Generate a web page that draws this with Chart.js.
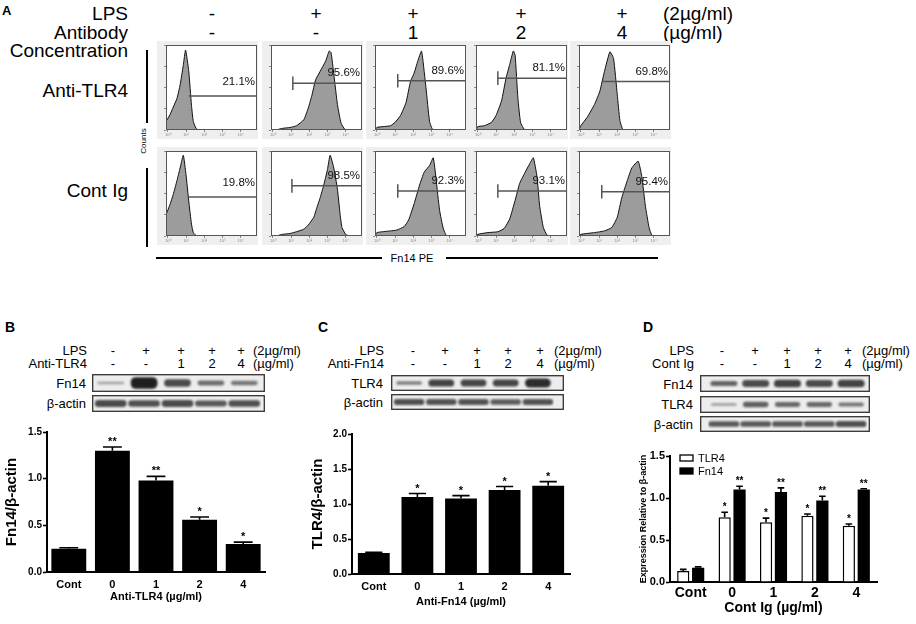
<!DOCTYPE html>
<html lang="en">
<head>
<meta charset="UTF-8" />
<title>Fn14 / TLR4 expression figure</title>
<script src="https://cdn.jsdelivr.net/npm/chart.js"></script>
<style>
  body { margin: 0; background: #fff; }
  #fig {
    position: relative; width: 916px; height: 624px; overflow: hidden;
    font-family: "Liberation Sans", Arial, Helvetica, sans-serif; color: #000;
  }
  #fig canvas { position: absolute; }
  .t { position: absolute; white-space: nowrap; line-height: 1; }
  .rule { position: absolute; background: #000; }
</style>
</head>
<body>
<div id="fig"></div>
<script>
// ---------- Panel A: flow histograms (x = fraction of log axis, y = fraction of max count)
const DECADE_POS = [0.02, 0.22, 0.42, 0.62, 0.82];
const DECADE_LABELS = ['10⁰', '10¹', '10²', '10³', '10⁴'];
const A_LPS = ['-', '+', '+', '+', '+'];
const A_DOSE = ['-', '-', '1', '2', '4'];

const a_tlr4_neg = [[0,0.10],[0.044,0.18],[0.08,0.27],[0.12,0.37],[0.155,0.53],[0.19,0.76],[0.215,0.94],[0.25,0.69],[0.28,0.29],[0.30,0.10],[0.33,0.02],[0.36,0],[1,0]];
const a_tlr4_lps = [[0,0],[0.05,0],[0.13,0.02],[0.21,0.03],[0.28,0.05],[0.36,0.12],[0.41,0.26],[0.45,0.41],[0.49,0.59],[0.54,0.69],[0.60,0.81],[0.64,0.93],[0.66,0.91],[0.69,0.66],[0.73,0.30],[0.77,0.08],[0.81,0.01],[0.86,0],[1,0]];
const a_tlr4_1 = [[0,0],[0.02,0.03],[0.09,0.04],[0.17,0.05],[0.22,0.09],[0.28,0.17],[0.34,0.32],[0.39,0.57],[0.43,0.67],[0.47,0.81],[0.51,0.93],[0.52,0.88],[0.56,0.50],[0.60,0.10],[0.64,0],[1,0]];
const a_tlr4_2 = [[0,0],[0.02,0.04],[0.09,0.05],[0.17,0.09],[0.22,0.17],[0.28,0.34],[0.33,0.61],[0.37,0.77],[0.41,0.93],[0.43,0.88],[0.46,0.38],[0.49,0.09],[0.54,0],[1,0]];
const a_tlr4_4 = [[0,0],[0.02,0.05],[0.09,0.15],[0.17,0.30],[0.23,0.46],[0.28,0.69],[0.34,0.92],[0.38,0.84],[0.42,0.42],[0.45,0.11],[0.49,0],[1,0]];

const a_cig_neg = [[0,0.25],[0.044,0.37],[0.08,0.49],[0.12,0.65],[0.155,0.80],[0.19,0.95],[0.22,0.72],[0.25,0.41],[0.28,0.14],[0.30,0.04],[0.34,0],[1,0]];
const a_cig_lps = [[0,0],[0.05,0],[0.13,0.02],[0.21,0.03],[0.28,0.05],[0.36,0.08],[0.41,0.13],[0.47,0.22],[0.50,0.32],[0.54,0.45],[0.58,0.60],[0.62,0.78],[0.65,0.95],[0.69,0.80],[0.73,0.55],[0.76,0.25],[0.78,0.10],[0.82,0.02],[0.86,0],[1,0]];
const a_cig_1 = [[0,0],[0.02,0.04],[0.17,0.06],[0.24,0.07],[0.32,0.11],[0.37,0.19],[0.43,0.38],[0.49,0.60],[0.54,0.75],[0.60,0.83],[0.64,0.92],[0.67,0.68],[0.71,0.30],[0.75,0.09],[0.79,0],[1,0]];
const a_cig_2 = [[0,0],[0.02,0.02],[0.13,0.04],[0.24,0.05],[0.31,0.09],[0.37,0.20],[0.43,0.42],[0.48,0.62],[0.54,0.75],[0.59,0.85],[0.63,0.92],[0.67,0.70],[0.70,0.35],[0.74,0.10],[0.78,0.01],[0.82,0],[1,0]];
const a_cig_4 = [[0,0],[0.02,0.02],[0.17,0.04],[0.28,0.06],[0.36,0.10],[0.42,0.22],[0.47,0.45],[0.53,0.65],[0.58,0.80],[0.65,0.88],[0.69,0.70],[0.73,0.35],[0.77,0.10],[0.80,0.01],[0.84,0],[1,0]];

const A_GATE_FROM_TLR4 = [0.25, 0.24, 0.25, 0.24, 0.25];
const A_GATE_AT_TLR4 = [0.40, 0.55, 0.58, 0.61, 0.57];
const A_GATE_BAR_TLR4 = [false, true, true, true, false];
const A_PCT_TLR4 = ['21.1%', '95.6%', '89.6%', '81.1%', '69.8%'];
const A_GATE_FROM_CIG = [0.24, 0.23, 0.25, 0.24, 0.25];
const A_GATE_AT_CIG = [0.46, 0.59, 0.53, 0.53, 0.52];
const A_GATE_BAR_CIG = [false, true, true, true, true];
const A_PCT_CIG = ['19.8%', '98.5%', '92.3%', '93.1%', '95.4%'];

// ---------- Panels B-D: western blots (band density per lane) and quantification
const LANES = ['Cont', '0', '1', '2', '4'];
const GEL_LPS = ['-', '+', '+', '+', '+'];
const GEL_DOSE = ['-', '-', '1', '2', '4'];

const B_BAND_FN14 = [0.25, 1.0, 0.75, 0.55, 0.5];
const B_BAND_ACTIN = [0.75, 0.72, 0.75, 0.68, 0.72];
const B_FN14 = [0.25, 1.30, 0.98, 0.56, 0.30];
const B_FN14_ERR = [0.01, 0.04, 0.045, 0.03, 0.02];
const B_STARS = ['', '**', '**', '*', '*'];

const C_BAND_TLR4 = [0.45, 0.8, 0.78, 0.78, 0.92];
const C_BAND_ACTIN = [0.72, 0.7, 0.7, 0.65, 0.7];
const C_TLR4 = [0.30, 1.10, 1.08, 1.20, 1.26];
const C_TLR4_ERR = [0.01, 0.05, 0.04, 0.05, 0.06];
const C_STARS = ['', '*', '*', '*', '*'];

const D_BAND_FN14 = [0.6, 0.75, 0.8, 0.75, 0.8];
const D_BAND_TLR4 = [0.3, 0.62, 0.58, 0.58, 0.5];
const D_BAND_ACTIN = [0.68, 0.68, 0.68, 0.68, 0.72];
const D_TLR4 = [0.13, 0.77, 0.71, 0.79, 0.67];
const D_TLR4_ERR = [0.02, 0.06, 0.05, 0.02, 0.02];
const D_FN14 = [0.17, 1.10, 1.07, 0.97, 1.10];
const D_FN14_ERR = [0.01, 0.04, 0.05, 0.05, 0.01];
const D_STARS_TLR4 = ['', '*', '*', '*', '*'];
const D_STARS_FN14 = ['', '**', '**', '**', '**'];

const FONT = '"Liberation Sans", Arial, Helvetica, sans-serif';
Chart.defaults.font.family = FONT;
Chart.defaults.color = '#000';

const fig = document.getElementById('fig');

function txt(s, x, y, size, o = {}) {
  const el = document.createElement('div');
  el.className = 't';
  el.textContent = s;
  el.style.left = x + 'px';
  el.style.top = y + 'px';
  el.style.fontSize = size + 'px';
  if (o.bold) el.style.fontWeight = 'bold';
  const ax = o.align === 'right' ? '-100%' : o.align === 'left' ? '0' : '-50%';
  el.style.transform = `translate(${ax}, -50%)` + (o.rotate ? ' rotate(-90deg)' : '');
  fig.appendChild(el);
}

function rule(x, y, w, h) {
  const el = document.createElement('div');
  el.className = 'rule';
  Object.assign(el.style, { left: x + 'px', top: y + 'px', width: w + 'px', height: h + 'px' });
  fig.appendChild(el);
}

function mkCanvas(x, y, w, h) {
  const c = document.createElement('canvas');
  c.width = w;
  c.height = h;
  c.style.left = x + 'px';
  c.style.top = y + 'px';
  fig.appendChild(c);
  return c;
}

// grey outer box, white plot area, frame and percentage label
const histFrame = {
  id: 'histFrame',
  beforeDraw(chart) {
    const { ctx, chartArea: a } = chart;
    ctx.save();
    ctx.fillStyle = '#efefef';
    ctx.fillRect(0, 0, chart.width, chart.height);
    ctx.fillStyle = '#fff';
    ctx.fillRect(a.left, a.top, a.right - a.left, a.bottom - a.top);
    ctx.restore();
  },
  afterDatasetsDraw(chart, args, opts) {
    const { ctx, chartArea: a } = chart;
    const y = chart.scales.y;
    ctx.save();
    ctx.strokeStyle = '#555';
    ctx.lineWidth = 1;
    ctx.strokeRect(a.left + 0.5, a.top + 0.5, a.right - a.left - 1, a.bottom - a.top - 1);
    ctx.fillStyle = '#111';
    ctx.font = '11.5px ' + FONT;
    ctx.textAlign = 'right';
    ctx.textBaseline = 'middle';
    ctx.fillText(opts.pct, a.right - 2, y.getPixelForValue(opts.level) - opts.lift);
    ctx.restore();
  }
};

function histogram(left, top, pairs, from, level, bar, pct, first) {
  const c = mkCanvas(left, top, 101, 98);
  const datasets = [
    { data: [{ x: from, y: level }, { x: 1, y: level }], borderColor: '#555', borderWidth: 1.5,
      pointRadius: 0, fill: false, order: 1 },
    { data: pairs.map(p => ({ x: p[0], y: p[1] })), fill: 'origin', backgroundColor: '#9c9c9c',
      borderColor: '#111', borderWidth: 1, pointRadius: 0, tension: 0.15, order: 3 }
  ];
  if (bar) {
    datasets.push({ data: [{ x: from, y: level - 0.08 }, { x: from, y: level + 0.08 }],
      borderColor: '#555', borderWidth: 1.5, pointRadius: 0, fill: false, order: 1 });
  }
  new Chart(c, {
    type: 'line',
    data: { datasets },
    options: {
      responsive: false, animation: false, events: [],
      layout: { padding: { top: 4, right: 1 } },
      plugins: {
        legend: { display: false }, tooltip: { enabled: false },
        histFrame: { pct, level, lift: first ? 14 : 10 }
      },
      scales: {
        x: {
          type: 'linear', min: 0, max: 1,
          afterBuildTicks: s => { s.ticks = DECADE_POS.map(v => ({ value: v })); },
          afterFit: s => { s.height = 9; },
          ticks: { font: { size: 4 }, color: '#888', padding: 0, maxRotation: 0,
                   callback: (v, i) => DECADE_LABELS[i] },
          grid: { drawOnChartArea: false, tickLength: 2, color: '#888' },
          border: { display: false }
        },
        y: {
          min: 0, max: 1,
          afterFit: s => { s.width = 9; },
          ticks: { display: false, stepSize: 0.25 },
          grid: { drawOnChartArea: false, tickLength: 2, color: '#888' },
          border: { display: false }
        }
      }
    },
    plugins: [histFrame]
  });
}

// blurred bands on a light strip
const blotStrip = {
  id: 'blotStrip',
  beforeDraw(chart) {
    const ctx = chart.ctx;
    ctx.save();
    ctx.fillStyle = '#ededed';
    ctx.fillRect(0, 0, chart.width, chart.height);
    ctx.restore();
  },
  beforeDatasetsDraw(chart) {
    chart.ctx.save();
    chart.ctx.filter = 'blur(1.1px)';
  },
  afterDatasetsDraw(chart) {
    chart.ctx.restore();
  },
  afterDraw(chart) {
    const ctx = chart.ctx;
    ctx.save();
    ctx.strokeStyle = '#333';
    ctx.lineWidth = 1.3;
    ctx.strokeRect(0.7, 0.7, chart.width - 1.4, chart.height - 1.4);
    ctx.restore();
  }
};

function blot(left, top, w, h, dens, padL, padR, widthPct) {
  const c = mkCanvas(left, top, w, h);
  new Chart(c, {
    type: 'bar',
    data: {
      labels: LANES,
      datasets: [{
        data: dens.map(v => [-(0.1 + 0.55 * v * v), 0.1 + 0.55 * v * v]),
        backgroundColor: dens.map(v => `rgba(20,20,20,${(0.15 + 0.8 * v).toFixed(2)})`),
        borderWidth: 0, borderSkipped: false, borderRadius: 5,
        categoryPercentage: 1, barPercentage: widthPct
      }]
    },
    options: {
      responsive: false, animation: false, events: [],
      layout: { padding: { left: padL, right: padR } },
      plugins: { legend: { display: false }, tooltip: { enabled: false } },
      scales: { x: { display: false }, y: { display: false, min: -1, max: 1 } }
    },
    plugins: [blotStrip]
  });
}

// upward error bars plus significance stars
const errStars = {
  id: 'errStars',
  afterDatasetsDraw(chart, args, opts) {
    const ctx = chart.ctx;
    const ys = chart.scales.y;
    chart.data.datasets.forEach((ds, di) => {
      chart.getDatasetMeta(di).data.forEach((bar, i) => {
        const top = ys.getPixelForValue(ds.data[i] + ds.errs[i]);
        const half = bar.width * 0.27;
        ctx.save();
        ctx.strokeStyle = '#000';
        ctx.lineWidth = 1.6;
        ctx.beginPath();
        ctx.moveTo(bar.x, bar.y);
        ctx.lineTo(bar.x, top);
        ctx.moveTo(bar.x - half, top);
        ctx.lineTo(bar.x + half, top);
        ctx.stroke();
        if (ds.stars[i]) {
          ctx.fillStyle = '#000';
          ctx.font = opts.font;
          ctx.textAlign = 'center';
          ctx.textBaseline = 'alphabetic';
          ctx.fillText(ds.stars[i], bar.x, top + opts.drop);
        }
        ctx.restore();
      });
    });
  }
};

const boxLegend = {
  id: 'boxLegend',
  afterDraw(chart) {
    const { ctx, chartArea: a } = chart;
    chart.data.datasets.forEach((ds, i) => {
      const bx = a.left + 10, by = a.top - 1 + i * 13;
      ctx.save();
      ctx.fillStyle = ds.backgroundColor;
      ctx.fillRect(bx, by, 13, 6);
      ctx.strokeStyle = '#000';
      ctx.lineWidth = 1.3;
      ctx.strokeRect(bx, by, 13, 6);
      ctx.fillStyle = '#000';
      ctx.font = '11px ' + FONT;
      ctx.textBaseline = 'middle';
      ctx.fillText(ds.label, bx + 18, by + 3.5);
      ctx.restore();
    });
  }
};

function barPanel(o) {
  const c = mkCanvas(o.x, o.y, o.w, o.h);
  new Chart(c, {
    type: 'bar',
    data: { labels: LANES, datasets: o.datasets },
    options: {
      responsive: false, animation: false, events: [],
      layout: { padding: o.pad },
      plugins: {
        legend: { display: false }, tooltip: { enabled: false },
        errStars: { font: o.starFont, drop: -2 }
      },
      scales: {
        x: {
          afterFit: s => { s.height = o.xH; },
          grid: { display: false, drawTicks: false },
          border: { color: '#000', width: 2 },
          ticks: { color: '#000', font: o.xFont, padding: o.xPad, maxRotation: 0 },
          title: { display: true, text: o.xTitle, color: '#000', font: o.xFont, padding: 0 }
        },
        y: {
          min: 0, max: o.yMax,
          afterFit: s => { s.width = o.yW; },
          ticks: { stepSize: 0.5, color: '#000', font: o.yFont, padding: 1, callback: v => v.toFixed(1) },
          grid: { drawOnChartArea: false, tickLength: 4, tickWidth: 1.6, tickColor: '#000' },
          border: { color: '#000', width: 2 },
          title: { display: true, text: o.yTitle, color: '#000', font: o.yTitleFont, padding: 0 }
        }
      }
    },
    plugins: [errStars].concat(o.extra || [])
  });
}

// ---------- Panel A layout
txt('A', 2, 10, 13, { bold: true, align: 'left' });
txt('LPS', 128, 13, 19, { align: 'right' });
txt('Antibody', 128, 32, 19, { align: 'right' });
txt('Concentration', 128, 50, 19, { align: 'right' });
txt('Anti-TLR4', 128, 90, 19, { align: 'right' });
txt('Cont Ig', 128, 190, 19, { align: 'right' });
const A_SIGN_X = [212, 316, 413, 521, 622];
A_SIGN_X.forEach((x, i) => {
  txt(A_LPS[i], x, 13, 19);
  txt(A_DOSE[i], x, 32, 19);
});
txt('(2µg/ml)', 663, 13, 19, { align: 'left' });
txt('(µg/ml)', 663, 32, 19, { align: 'left' });

rule(146, 50, 2, 73);
rule(146, 168, 2, 79);
txt('Counts', 144, 141, 8, { rotate: true });

const A_BOX_X = [157, 262, 366, 467, 570];
const tlr4Row = [a_tlr4_neg, a_tlr4_lps, a_tlr4_1, a_tlr4_2, a_tlr4_4];
const cigRow = [a_cig_neg, a_cig_lps, a_cig_1, a_cig_2, a_cig_4];
A_BOX_X.forEach((x, i) => {
  histogram(x, 41, tlr4Row[i], A_GATE_FROM_TLR4[i], A_GATE_AT_TLR4[i], A_GATE_BAR_TLR4[i], A_PCT_TLR4[i], i === 0);
  histogram(x, 147, cigRow[i], A_GATE_FROM_CIG[i], A_GATE_AT_CIG[i], A_GATE_BAR_CIG[i], A_PCT_CIG[i], i === 0);
});
rule(156, 257, 226, 1.5);
rule(446, 257, 212, 1.5);
txt('Fn14  PE', 412, 258, 11);

// ---------- gel headers
function gelHeader(right, cols, unitLeft, doseName, rows) {
  txt('LPS', right, 350, 13, { align: 'right' });
  txt(doseName, right, 363, 13, { align: 'right' });
  cols.forEach((x, i) => {
    txt(GEL_LPS[i], x, 350, 13);
    txt(GEL_DOSE[i], x, 363, 13);
  });
  txt('(2µg/ml)', unitLeft, 350, 13, { align: 'left' });
  txt('(µg/ml)', unitLeft, 363, 13, { align: 'left' });
  rows.forEach(r => txt(r[0], right - 1, r[1], 13, { align: 'right' }));
}

// ---------- Panel B
txt('B', 5, 327, 14, { bold: true, align: 'left' });
gelHeader(87, [113, 146, 181, 212, 241], 253, 'Anti-TLR4', [['Fn14', 383], ['β-actin', 403]]);
blot(92, 374, 173, 18, B_BAND_FN14, 2, 4, 0.8);
blot(92, 395, 173, 17, B_BAND_ACTIN, 2, 4, 0.95);
barPanel({
  x: 0, y: 425, w: 270, h: 179,
  pad: { top: 7, left: 3, right: 5 },
  xH: 32, yW: 44, yMax: 1.5, xPad: 6,
  xFont: { size: 11, weight: 'bold' }, yFont: { size: 10, weight: 'bold' },
  yTitleFont: { size: 15, weight: 'bold' }, starFont: 'bold 11px ' + FONT,
  xTitle: 'Anti-TLR4 (µg/ml)', yTitle: 'Fn14/β-actin',
  datasets: [{ data: B_FN14, errs: B_FN14_ERR, stars: B_STARS, backgroundColor: '#000',
               categoryPercentage: 0.8, barPercentage: 1 }]
});

// ---------- Panel C
txt('C', 318, 327, 14, { bold: true, align: 'left' });
gelHeader(384, [413, 445, 477, 508, 540], 554, 'Anti-Fn14', [['TLR4', 383], ['β-actin', 402]]);
blot(391, 375, 173, 16, C_BAND_TLR4, 2, 10, 0.8);
blot(391, 394, 173, 16, C_BAND_ACTIN, 2, 10, 0.95);
barPanel({
  x: 305, y: 425, w: 270, h: 184,
  pad: { top: 9, left: 4, right: 5 },
  xH: 35, yW: 43, yMax: 2.0, xPad: 6,
  xFont: { size: 11, weight: 'bold' }, yFont: { size: 10, weight: 'bold' },
  yTitleFont: { size: 15, weight: 'bold' }, starFont: 'bold 11px ' + FONT,
  xTitle: 'Anti-Fn14 (µg/ml)', yTitle: 'TLR4/β-actin',
  datasets: [{ data: C_TLR4, errs: C_TLR4_ERR, stars: C_STARS, backgroundColor: '#000',
               categoryPercentage: 0.73, barPercentage: 1 }]
});

// ---------- Panel D
txt('D', 643, 327, 14, { bold: true, align: 'left' });
gelHeader(694, [722, 755, 787, 818, 848], 862, 'Cont Ig', [['Fn14', 384], ['TLR4', 404], ['β-actin', 424]]);
blot(700, 375, 170, 17, D_BAND_FN14, 8, 3, 0.85);
blot(700, 396, 170, 17, D_BAND_TLR4, 8, 3, 0.8);
blot(700, 416, 170, 16, D_BAND_ACTIN, 8, 3, 0.97);
barPanel({
  x: 634, y: 440, w: 247, h: 177,
  pad: { top: 16, left: 4, right: 4 },
  xH: 35, yW: 32, yMax: 1.5, xPad: 3,
  xFont: { size: 14, weight: 'bold' }, yFont: { size: 11, weight: 'bold' },
  yTitleFont: { size: 9, weight: 'bold' }, starFont: 'bold 10px ' + FONT,
  xTitle: 'Cont Ig (µg/ml)', yTitle: 'Expression Relative to β-actin',
  datasets: [
    { label: 'TLR4', data: D_TLR4, errs: D_TLR4_ERR, stars: D_STARS_TLR4, backgroundColor: '#fff',
      borderColor: '#000', borderWidth: 1.5, categoryPercentage: 0.72, barPercentage: 0.82 },
    { label: 'Fn14', data: D_FN14, errs: D_FN14_ERR, stars: D_STARS_FN14, backgroundColor: '#000',
      categoryPercentage: 0.72, barPercentage: 0.82 }
  ],
  extra: [boxLegend]
});
</script>
</body>
</html>
